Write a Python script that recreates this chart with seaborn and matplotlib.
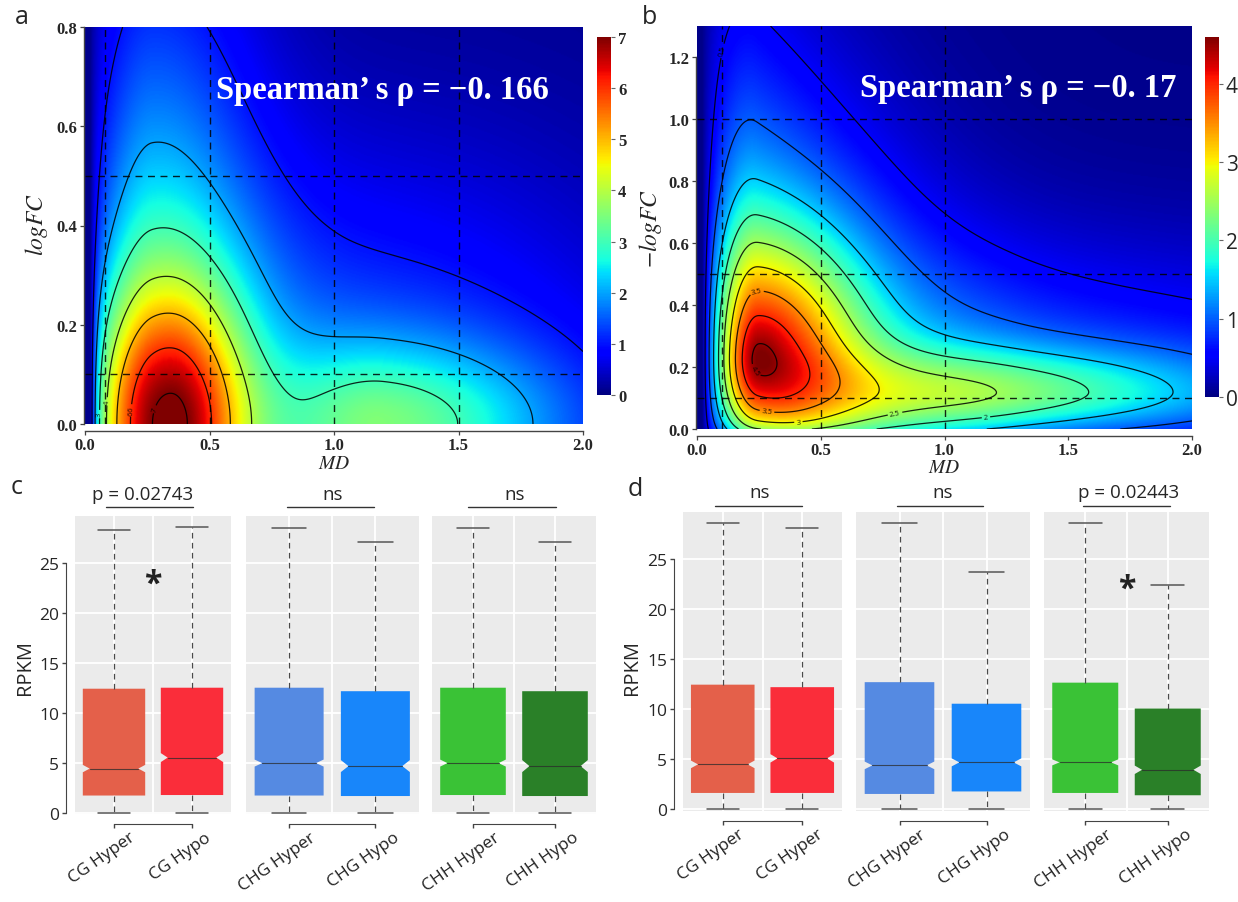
import numpy as np
import pandas as pd
import matplotlib
matplotlib.use("Agg")
import matplotlib.pyplot as plt
from matplotlib.path import Path
from matplotlib.transforms import blended_transform_factory, ScaledTranslation
import seaborn as sns

# ------------------------------------------------------------------
# Panel a : density surface components
A_CX   = [0.35, 0.27, 1.20, 1.00]
A_CY   = [0.00, 0.00, 0.00, 0.00]
A_SXL  = [0.25, 0.18, 0.30, 0.60]
A_SXR  = [0.21, 0.30, 0.50, 0.85]
A_SYD  = [0.19, 0.60, 0.115, 0.36]
A_SYU  = [0.19, 0.60, 0.115, 0.36]
A_W    = [3.80, 2.60, 2.05, 1.40]
A_TILT = [0.0, 0.0, 0.0, 0.0]
A_EDGE = [0.02, 0.024]
A_BOTTOM = [0.0, 0.03]
A_FLOOR = 0.1
A_LEVELS = [1, 2, 3, 4, 5, 6, 7]
A_VLINES = [0.08, 0.5, 1.0, 1.5]
A_HLINES = [0.1, 0.5]
A_YTICKS = [0.0, 0.2, 0.4, 0.6, 0.8]
A_CBTICKS = [0, 1, 2, 3, 4, 5, 6, 7]
A_TEXT = "Spearman’ s ρ = −0. 166"

# Panel b : density surface components
B_CX   = [0.25, 0.24, 1.20, 1.30, 0.25]
B_CY   = [0.23, 0.23, 0.12, 0.10, 0.24]
B_SXL  = [0.13, 0.15, 0.50, 0.60, 0.06]
B_SXR  = [0.28, 0.75, 0.70, 1.30, 0.07]
B_SYD  = [0.20, 0.40, 0.08, 0.30, 0.07]
B_SYU  = [0.28, 0.70, 0.10, 0.33, 0.08]
B_W    = [2.45, 1.60, 1.22, 0.80, 0.25]
B_TILT = [0.0, 0.80, 0.0, 0.0, 0.0]
B_EDGE = [0.02, 0.03]
B_BOTTOM = [0.15, 0.03]
B_FLOOR = 0.05
B_LEVELS = [0.5, 1.0, 1.5, 2.0, 2.5, 3.0, 3.5, 4.0, 4.5]
B_VLINES = [0.1, 0.5, 1.0]
B_HLINES = [0.1, 0.5, 1.0]
B_YTICKS = [0.0, 0.2, 0.4, 0.6, 0.8, 1.0, 1.2]
B_CBTICKS = [0, 1, 2, 3, 4]
B_TEXT = "Spearman’ s ρ = −0. 17"

XTICKS = [0.0, 0.5, 1.0, 1.5, 2.0]

# Panels c / d : box summaries (RPKM)
C_LABELS = ["CG Hyper", "CG Hypo", "CHG Hyper", "CHG Hypo", "CHH Hyper", "CHH Hypo"]
C_LO  = [0.0, 0.0, 0.0, 0.0, 0.0, 0.0]
C_Q1  = [1.70, 1.75, 1.70, 1.65, 1.75, 1.65]
C_MED = [4.40, 5.50, 4.95, 4.65, 4.95, 4.65]
C_Q3  = [12.40, 12.50, 12.50, 12.15, 12.50, 12.15]
C_HI  = [28.3, 28.6, 28.5, 27.1, 28.5, 27.1]
C_NOTCH = [0.37, 0.45, 0.35, 0.60, 0.35, 0.60]
C_SIG = ["p = 0.02743", "ns", "ns"]
C_STAR = [0, 22.9]          # facet index, RPKM height of the asterisk

D_LABELS = ["CG Hyper", "CG Hyper", "CHG Hyper", "CHG Hypo", "CHH Hyper", "CHH Hypo"]
D_LO  = [0.0, 0.0, 0.0, 0.0, 0.0, 0.0]
D_Q1  = [1.65, 1.65, 1.55, 1.80, 1.65, 1.42]
D_MED = [4.50, 5.10, 4.40, 4.70, 4.70, 3.96]
D_Q3  = [12.45, 12.20, 12.70, 10.55, 12.65, 10.07]
D_HI  = [28.6, 28.05, 28.6, 23.7, 28.6, 22.35]
D_NOTCH = [0.38, 0.42, 0.38, 0.40, 0.30, 0.42]
D_SIG = ["ns", "ns", "p = 0.02443"]
D_STAR = [2, 22.0]

BOX_COLORS = ["#E4604A", "#FA2D3A", "#558AE2", "#1886FA", "#3AC236", "#2A8028"]
RPKM_TICKS = [0, 5, 10, 15, 20, 25]

# ------------------------------------------------------------------
sns.set_style("ticks")
plt.rcParams["font.family"] = ["Open Sans", "DejaVu Sans"]
plt.rcParams["mathtext.fontset"] = "stix"

W, H = 1238, 903
fig = plt.figure(figsize=(W / 100, H / 100), dpi=100)


def rect(x0, y0, x1, y1):
    return [x0 / W, 1 - y1 / H, (x1 - x0) / W, (y1 - y0) / H]


def fpos(x, y):
    return x / W, 1 - y / H


def density(X, Y, cx, cy, sxl, sxr, syd, syu, w, tilt, edge, bottom, floor):
    Z = np.zeros_like(X)
    for i in range(len(w)):
        dx = X - cx[i]
        dy = Y - cy[i] + tilt[i] * dx
        sx = np.where(dx < 0, sxl[i], sxr[i])
        sy = np.where(dy < 0, syd[i], syu[i])
        Z += w[i] * np.exp(-0.5 * (dx / sx) ** 2 - 0.5 * (dy / sy) ** 2)
    e = 1 - np.exp(-np.clip(X - edge[0], 0, None) / edge[1])
    b = 1 - bottom[0] * np.exp(-Y / bottom[1])
    return Z * e * b + floor


SERIF_B = dict(fontfamily="Liberation Serif", fontweight="bold")


def density_panel(ax, cax, comps, edge, bottom, floor, ytop, vmax, levels, vlines, hlines,
                  yticks, cbticks, cb_font, label_pos, fmt):
    for s in ["top", "right"]:
        ax.spines[s].set_visible(False)
    ax.spines["bottom"].set_position(("outward", 5))
    ax.spines["left"].set_position(("outward", 1))
    xs = np.linspace(0, 2, 520)
    ys = np.linspace(0, ytop, 360)
    X, Y = np.meshgrid(xs, ys)
    Z = density(X, Y, *comps, edge, bottom, floor)
    im = ax.imshow(Z, origin="lower", extent=[0, 2, 0, ytop], aspect="auto",
                   cmap="jet", vmin=0, vmax=vmax, interpolation="bilinear")
    cs = ax.contour(X, Y, Z, levels=levels, colors="black", linewidths=0.9, alpha=0.85)
    ax.clabel(cs, manual=label_pos, fontsize=5.5, inline=True, fmt=fmt, inline_spacing=2)
    for v in vlines:
        ax.axvline(v, color="black", lw=1.0, ls=(0, (5, 4)), alpha=0.85)
    for h in hlines:
        ax.axhline(h, color="black", lw=1.0, ls=(0, (5, 4)), alpha=0.85)
    ax.set_xlim(0, 2)
    ax.set_ylim(0, ytop)
    ax.spines["left"].set_bounds(0, yticks[-1])
    for s in ["bottom", "left"]:
        ax.spines[s].set_color("#444444")
        ax.spines[s].set_linewidth(1.0)
    ax.set_xticks(XTICKS, labels=[f"{t:.1f}" for t in XTICKS], fontsize=12, **SERIF_B)
    ax.set_yticks(yticks, labels=[f"{t:.1f}" for t in yticks], fontsize=12, **SERIF_B)
    ax.tick_params(length=3, width=0.9, color="#444444", pad=1.5)
    cb = fig.colorbar(im, cax=cax, ticks=cbticks)
    cb.outline.set_visible(False)
    cax.tick_params(length=3, width=0.8, color="#666666", pad=2)
    cax.set_yticks(cbticks, labels=[str(t) for t in cbticks], **cb_font)


# ---------------- panel a ----------------
ax_a = fig.add_axes(rect(85, 28, 583, 425))
cax_a = fig.add_axes(rect(597, 38, 611, 396))
density_panel(ax_a, cax_a,
              (A_CX, A_CY, A_SXL, A_SXR, A_SYD, A_SYU, A_W, A_TILT), A_EDGE, A_BOTTOM, A_FLOOR,
              0.8, 7.0, A_LEVELS, A_VLINES, A_HLINES, A_YTICKS, A_CBTICKS,
              dict(fontsize=12, **SERIF_B),
              [(0.05, 0.02), (0.11, 0.045), (0.16, 0.024), (0.21, 0.024), (0.34, 0.02)],
              lambda v: f"{v:g}")

# ---------------- panel b ----------------
ax_b = fig.add_axes(rect(697, 27, 1192, 430))
cax_b = fig.add_axes(rect(1205, 38, 1219, 398))
density_panel(ax_b, cax_b,
              (B_CX, B_CY, B_SXL, B_SXR, B_SYD, B_SYU, B_W, B_TILT), B_EDGE, B_BOTTOM, B_FLOOR,
              1.3, 4.6, B_LEVELS, B_VLINES, B_HLINES, B_YTICKS, B_CBTICKS,
              dict(fontsize=15, fontfamily="Open Sans"),
              [(0.22, 1.2), (0.24, 0.446), (0.26, 0.2), (0.28, 0.04), (0.41, 0.02),
               (0.8, 0.05), (1.17, 0.02)],
              lambda v: f"{v:g}")

for (x, y), t in [((382, 90), A_TEXT), ((1018, 88), B_TEXT)]:
    fig.text(*fpos(x, y), t, color="white", fontsize=23.5, ha="center", va="center", **SERIF_B)

fig.text(*fpos(36, 225), r"$logFC$", fontsize=17, rotation=90, ha="center", va="center")
fig.text(*fpos(650, 228), r"$-logFC$", fontsize=17, rotation=90, ha="center", va="center")
fig.text(*fpos(334, 464), r"$MD$", fontsize=14, ha="center", va="center")
fig.text(*fpos(944, 468), r"$MD$", fontsize=14, ha="center", va="center")

# ---------------- panels c and d ----------------
NOTCH_TIP = 0.78
LABEL_ANGLE = 35


def box_facet(ax, idx, labels, lo, q1, med, q3, hi, notch, first, sig, sig_x, line_x,
              line_y, text_y):
    ax.set_facecolor("#EBEBEB")
    ax.spines["top"].set_visible(False)
    ax.spines["right"].set_visible(False)
    ax.spines["bottom"].set_position(("outward", 7.5))
    if first:
        ax.spines["left"].set_position(("outward", 6.8))
    else:
        ax.spines["left"].set_visible(False)
    keys = [f"k{i}" for i in idx]
    vals = np.column_stack([np.take(lo, idx), np.take(q1, idx), np.take(med, idx),
                            np.take(q3, idx), np.take(hi, idx)])
    df = pd.DataFrame({"grp": np.repeat(keys, 5), "RPKM": vals.ravel()})
    pal = {k: BOX_COLORS[i] for k, i in zip(keys, idx)}
    sns.boxplot(data=df, x="grp", y="RPKM", hue="grp", order=keys, hue_order=keys,
                palette=pal, saturation=1, width=0.8, whis=(0, 100), legend=False, ax=ax,
                linecolor="#4a4a4a", linewidth=1.0,
                boxprops=dict(linewidth=0),
                whiskerprops=dict(linestyle=(0, (4.5, 3.5)), linewidth=0.9, color="#4a4a4a"),
                capprops=dict(linewidth=1.1, color="#555555"),
                medianprops=dict(visible=False))
    for patch in list(ax.patches):
        v = patch.get_path().vertices
        xl, xr = v[:, 0].min(), v[:, 0].max()
        pos = 0.5 * (xl + xr)
        i = idx[int(round(pos))]
        half = 0.5 * (xr - xl) * NOTCH_TIP
        nlo, nhi = med[i] - notch[i], med[i] + notch[i]
        xs = [xl, xr, xr, pos + half, xr, xr, xl, xl, pos - half, xl, xl]
        ys = [q1[i], q1[i], nlo, med[i], nhi, q3[i], q3[i], nhi, med[i], nlo, q1[i]]
        patch.set_path(Path(np.column_stack([xs, ys]), closed=True))
        patch.set_linewidth(0)
        ax.plot([pos - half, pos + half], [med[i], med[i]], color="#2b2b2b", lw=0.8, alpha=0.75)
    ax.set_xlim(-0.5, 1.5)
    ax.set_ylim(-0.15, 29.7)
    ax.set_xlabel("")
    ax.set_ylabel("")
    ax.set_yticks(RPKM_TICKS, labels=[str(t) for t in RPKM_TICKS], fontsize=12.5)
    ax.set_xticks([0, 1], labels=labels, fontsize=12.5, rotation=LABEL_ANGLE, ha="center",
                  va="top", color="#222222")
    ax.set_xticks([0.5], minor=True)
    ax.grid(True, which="major", color="white", lw=1.3)
    ax.grid(True, which="minor", axis="x", color="white", lw=1.3)
    ax.set_axisbelow(True)
    ax.spines["bottom"].set_bounds(0, 1)
    ax.spines["bottom"].set_color("#444444")
    ax.tick_params(axis="x", which="minor", length=0)
    ax.tick_params(axis="x", which="major", length=3, width=1, color="#444444", pad=0.3)
    off = ScaledTranslation(-12 / 100, 0, fig.dpi_scale_trans)
    for lab in ax.get_xticklabels():
        lab.set_transform(lab.get_transform() + off)
    if first:
        ax.spines["left"].set_bounds(0, 25)
        ax.spines["left"].set_color("#444444")
        ax.tick_params(axis="y", length=3, width=1, color="#444444", pad=1.5)
    else:
        ax.tick_params(axis="y", length=0, labelleft=False)
    tr = blended_transform_factory(ax.transData, ax.transAxes)
    ax.plot(line_x, [line_y, line_y], color="#333333", lw=1.0, transform=tr, clip_on=False)
    ax.text(sig_x, text_y, sig, transform=tr, ha="center", va="center", fontsize=13.5)


# facet pixel boxes and annotation layout
C_BOXES = [(75, 231), (246, 418.5), (432, 596)]
C_TOP, C_BOT = 517, 815
C_SIG_X = [0.37, 0.5, 0.51]
C_LINE_X = [(-0.1, 1.01), (-0.02, 0.98), (-0.06, 1.01)]
D_BOXES = [(683, 842), (856, 1030), (1044, 1209)]
D_TOP, D_BOT = 512.7, 812
D_SIG_X = [0.47, 0.5, 0.53]
D_LINE_X = [(-0.1, 1.0), (-0.03, 0.96), (-0.03, 1.03)]

for boxes, top, bot, labels, lo, q1, med, q3, hi, notch, sigs, sx, lx, star, ly, ty in [
    (C_BOXES, C_TOP, C_BOT, C_LABELS, C_LO, C_Q1, C_MED, C_Q3, C_HI, C_NOTCH, C_SIG, C_SIG_X,
     C_LINE_X, C_STAR, 1 + 9 / 298, 1 + 22 / 298),
    (D_BOXES, D_TOP, D_BOT, D_LABELS, D_LO, D_Q1, D_MED, D_Q3, D_HI, D_NOTCH, D_SIG, D_SIG_X,
     D_LINE_X, D_STAR, 1 + 6 / 299, 1 + 20 / 299),
]:
    for f, (x0, x1) in enumerate(boxes):
        ax = fig.add_axes(rect(x0, top, x1, bot))
        idx = [2 * f, 2 * f + 1]
        box_facet(ax, idx, [labels[i] for i in idx], lo, q1, med, q3, hi, notch,
                  f == 0, sigs[f], sx[f], lx[f], ly, ty)
        if f == star[0]:
            ax.text(0.5, star[1], "*", ha="center", va="center", fontsize=23,
                    fontweight="bold", color="#222222")

fig.text(*fpos(25, 668), "RPKM", rotation=90, fontsize=14.5, ha="center", va="center")
fig.text(*fpos(632, 668), "RPKM", rotation=90, fontsize=14.5, ha="center", va="center")

for (x, y), t in [((22, 18), "a"), ((650, 18), "b"), ((17, 487), "c"), ((635, 490), "d")]:
    fig.text(*fpos(x, y), t, fontsize=18, ha="center", va="center")

fig.savefig("out.png", dpi=100)
